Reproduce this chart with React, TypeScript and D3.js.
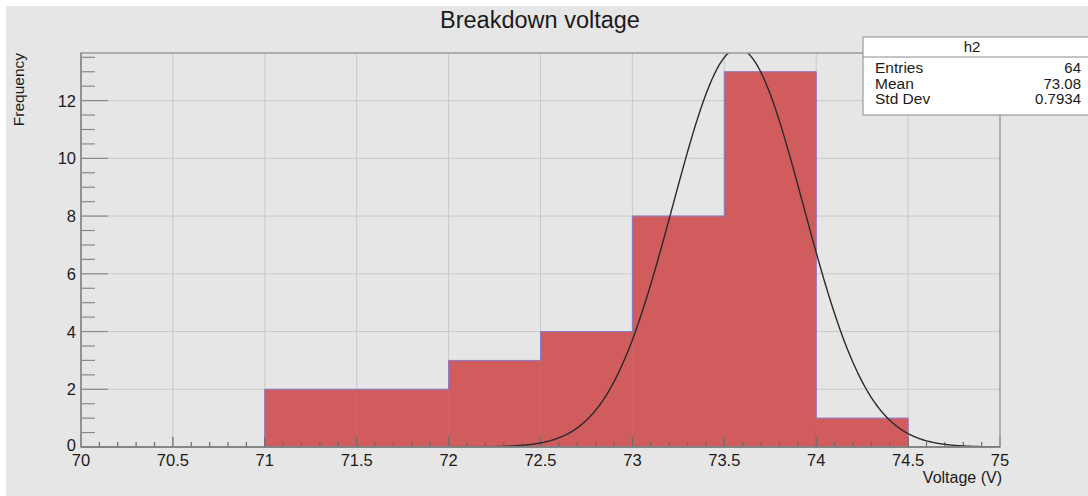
import React from "react";
import * as d3 from "d3";

const binEdges = [71, 71.5, 72, 72.5, 73, 73.5, 74, 74.5];
const binCounts = [2, 2, 3, 4, 8, 13, 1];
const xMajorTicks = [70, 70.5, 71, 71.5, 72, 72.5, 73, 73.5, 74, 74.5, 75];
const xTickLabels = ["70", "70.5", "71", "71.5", "72", "72.5", "73", "73.5", "74", "74.5", "75"];
const yMajorTicks = [0, 2, 4, 6, 8, 10, 12];
const yTickLabels = ["0", "2", "4", "6", "8", "10", "12"];
const statLabels = ["Entries", "Mean", "Std Dev"];
const statValues = ["64", "73.08", "0.7934"];
const fitConstant = 13.8;
const fitMean = 73.575;
const fitSigma = 0.355;
const fitRange = [72, 75];

const W = 1088;
const H = 496;
const FONT = "'Liberation Sans', Arial, Helvetica, sans-serif";

export default function App() {
  const x = d3.scaleLinear().domain([70, 75]).range([81, 1000]);
  const y = d3.scaleLinear().domain([0, 13.65]).range([447, 53]);

  const xMinor = d3.range(70, 75.0001, 0.1).filter(
    (v) => Math.abs(v * 2 - Math.round(v * 2)) > 1e-6
  );
  const yMinor = d3.range(0, 13.65, 0.5).filter((v) => Math.abs(v / 2 - Math.round(v / 2)) > 1e-6);

  const outlinePts: [number, number][] = [];
  outlinePts.push([binEdges[0], 0]);
  binCounts.forEach((c, i) => {
    outlinePts.push([binEdges[i], c]);
    outlinePts.push([binEdges[i + 1], c]);
  });
  outlinePts.push([binEdges[binEdges.length - 1], 0]);
  const stepLine = d3
    .line<[number, number]>()
    .x((d) => x(d[0]))
    .y((d) => y(d[1]));

  const fitPts: [number, number][] = d3
    .range(fitRange[0], fitRange[1] + 1e-9, 0.005)
    .map((v) => [v, fitConstant * Math.exp(-((v - fitMean) ** 2) / (2 * fitSigma * fitSigma))]);
  const fitLine = d3
    .line<[number, number]>()
    .x((d) => x(d[0]))
    .y((d) => y(d[1]));

  const x0 = x(70), x1 = x(75), y0 = y(0), y1 = y(13.65);

  return (
    <svg
      width={W}
      height={H}
      style={{ position: "absolute", left: 0, top: 0, display: "block" }}
      fontFamily={FONT}
    >
      <rect x={0} y={0} width={W} height={H} fill="#ffffff" />
      <rect x={6} y={6} width={W - 6} height={H - 6} fill="#e6e6e6" />
      <text x={540} y={28} textAnchor="middle" fontSize={23.5} fill="#1a1a1a">
        Breakdown voltage
      </text>

      <defs>
        <clipPath id="frameClip">
          <rect x={x0} y={y1} width={x1 - x0} height={y0 - y1} />
        </clipPath>
      </defs>

      {xMajorTicks.slice(1, -1).map((v) => (
        <line key={"gx" + v} x1={x(v)} x2={x(v)} y1={y1} y2={y0} stroke="#c9c9c9" strokeWidth={1} />
      ))}
      {yMajorTicks.slice(1).map((v) => (
        <line key={"gy" + v} x1={x0} x2={x1} y1={y(v)} y2={y(v)} stroke="#c9c9c9" strokeWidth={1} />
      ))}

      {binCounts.map((c, i) => (
        <rect
          key={"b" + i}
          x={x(binEdges[i])}
          y={y(c)}
          width={x(binEdges[i + 1]) - x(binEdges[i])}
          height={y(0) - y(c)}
          fill="#d05c5d"
          stroke="#d05c5d"
          strokeWidth={0.5}
        />
      ))}
      <path d={stepLine(outlinePts) || ""} fill="none" stroke="#8c7cc8" strokeWidth={1} />

      {yMajorTicks.map((v) => (
        <line key={"ymt" + v} x1={x0} x2={x0 + 27} y1={y(v)} y2={y(v)} stroke="#8a8a8a" strokeWidth={1.2} />
      ))}
      {yMinor.map((v) => (
        <line key={"ymn" + v} x1={x0} x2={x0 + 14} y1={y(v)} y2={y(v)} stroke="#8a8a8a" strokeWidth={1.2} />
      ))}
      {xMajorTicks.map((v) => (
        <line key={"xmt" + v} x1={x(v)} x2={x(v)} y1={y0} y2={y0 - 10} stroke="#6a6a6a" strokeWidth={1.2} />
      ))}
      {xMinor.map((v) => (
        <line key={"xmn" + v.toFixed(2)} x1={x(v)} x2={x(v)} y1={y0} y2={y0 - 5} stroke="#6a6a6a" strokeWidth={1.2} />
      ))}

      <g clipPath="url(#frameClip)">
        <path d={fitLine(fitPts) || ""} fill="none" stroke="#2a2a2a" strokeWidth={1.4} />
      </g>

      <rect x={x0} y={y1} width={x1 - x0} height={y0 - y1} fill="none" stroke="#9a9a9a" strokeWidth={1.5} />
      <line x1={x0} x2={x1} y1={y0} y2={y0} stroke="#7a7a7a" strokeWidth={1.5} />
      <line x1={x0} x2={x0} y1={y1} y2={y0} stroke="#8a8a8a" strokeWidth={1.5} />

      {yMajorTicks.map((v, i) => (
        <text key={"yl" + v} x={76} y={y(v) + (v === 0 ? 4 : 6)} textAnchor="end" fontSize={16.5} fill="#1a1a1a">
          {yTickLabels[i]}
        </text>
      ))}
      {xMajorTicks.map((v, i) => (
        <text key={"xl" + v} x={x(v)} y={y0 + 19} textAnchor="middle" fontSize={16.5} fill="#1a1a1a">
          {xTickLabels[i]}
        </text>
      ))}

      <text x={1002} y={483} textAnchor="end" fontSize={16} fill="#1a1a1a">
        Voltage (V)
      </text>
      <text
        transform={`translate(24, ${y1}) rotate(-90)`}
        textAnchor="end"
        fontSize={15.5}
        fill="#1a1a1a"
      >
        Frequency
      </text>

      <rect x={863} y={37} width={230} height={78} fill="#ffffff" stroke="#8a8a8a" strokeWidth={1} />
      <line x1={863} x2={1088} y1={57} y2={57} stroke="#8a8a8a" strokeWidth={1} />
      <text x={972} y={52} textAnchor="middle" fontSize={15} fill="#1a1a1a">
        h2
      </text>
      {statLabels.map((s, i) => (
        <g key={s}>
          <text x={875} y={73 + i * 15.5} fontSize={15.5} fill="#1a1a1a">
            {s}
          </text>
          <text x={1081} y={73 + i * 15.5} textAnchor="end" fontSize={15} fill="#1a1a1a">
            {statValues[i]}
          </text>
        </g>
      ))}
    </svg>
  );
}
